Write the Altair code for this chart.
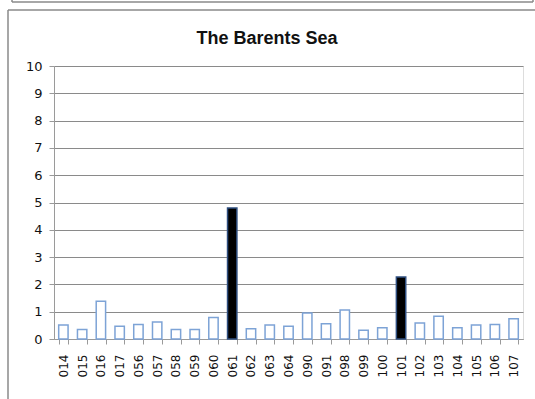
import altair as alt
import pandas as pd

# Station codes along the x axis and the measured value at each station
stations = ["014", "015", "016", "017", "056", "057", "058", "059", "060", "061",
            "062", "063", "064", "090", "091", "098", "099", "100", "101", "102",
            "103", "104", "105", "106", "107"]
values = [0.51, 0.35, 1.38, 0.47, 0.53, 0.62, 0.35, 0.35, 0.79, 4.8,
          0.38, 0.51, 0.47, 0.95, 0.56, 1.06, 0.32, 0.41, 2.27, 0.59,
          0.83, 0.41, 0.51, 0.53, 0.74]
# Stations shown as solid black bars
highlighted = ["061", "101"]
y_ticks = list(range(0, 11))
title_text = "The Barents Sea"

df = pd.DataFrame({"station": stations, "value": values})
df["kind"] = ["high" if s in highlighted else "normal" for s in stations]

W, H = 469, 273
LEFT, TOP = 54, 66

x_enc = alt.X(
    "station:N",
    sort=stations,
    scale=alt.Scale(paddingInner=0.5, paddingOuter=0.25),
    axis=alt.Axis(title=None, labelAngle=-90, tickBand="extent", grid=False,
                  labelFontSize=12, labelPadding=10),
)
y_enc = alt.Y(
    "value:Q",
    scale=alt.Scale(domain=[0, 10], nice=False),
    axis=alt.Axis(title=None, values=y_ticks, labelFontSize=13, labelPadding=7),
)

bars = alt.Chart(df).mark_bar(strokeWidth=1.5).encode(
    x=x_enc,
    y=y_enc,
    fill=alt.Color("kind:N", scale=alt.Scale(domain=["normal", "high"], range=["#ffffff", "#000000"]), legend=None),
    stroke=alt.Stroke("kind:N", scale=alt.Scale(domain=["normal", "high"], range=["#7da3d6", "#2f4f80"]), legend=None),
)

gray = "#8a8a8a"
frame_src = alt.Chart(pd.DataFrame({"k": [0]}))

# Chart border (top and left edges) and the edge of the box above it
border_top = frame_src.mark_rule(color=gray, strokeWidth=1.5).encode(
    x=alt.value(8 - LEFT), x2=alt.value(535 - LEFT), y=alt.value(10 - TOP))
border_left = frame_src.mark_rule(color=gray, strokeWidth=1.5).encode(
    x=alt.value(8 - LEFT), y=alt.value(10 - TOP), y2=alt.value(399 - TOP))
above_bottom = frame_src.mark_rule(color=gray, strokeWidth=1.5).encode(
    x=alt.value(12 - LEFT), x2=alt.value(533 - LEFT), y=alt.value(2 - TOP))
above_left = frame_src.mark_rule(color=gray, strokeWidth=1.5).encode(
    x=alt.value(12 - LEFT), y=alt.value(0 - TOP), y2=alt.value(2 - TOP))
above_right = frame_src.mark_rule(color=gray, strokeWidth=1.5).encode(
    x=alt.value(533 - LEFT), y=alt.value(0 - TOP), y2=alt.value(2 - TOP))

title = frame_src.mark_text(
    text=title_text, font="Liberation Sans", fontSize=18, fontWeight="bold",
    color="#111111", align="center", baseline="alphabetic",
).encode(x=alt.value(267 - LEFT), y=alt.value(44 - TOP))

chart = alt.layer(
    bars, border_top, border_left, above_bottom, above_left, above_right, title
).properties(
    width=W, height=H,
    autosize=alt.AutoSizeParams(type="none"),
    padding={"left": LEFT, "top": TOP, "right": 535 - LEFT - W, "bottom": 399 - TOP - H},
).configure_view(stroke=None).configure(background="white").configure_axis(
    labelFont="DejaVu Sans", labelColor="#111111",
    tickSize=5, tickColor="#9a9a9a", domainColor="#9a9a9a",
    gridColor="#8a8a8a", gridWidth=1,
)

chart.save("out.html", embed_options={"renderer": "svg", "actions": False})
